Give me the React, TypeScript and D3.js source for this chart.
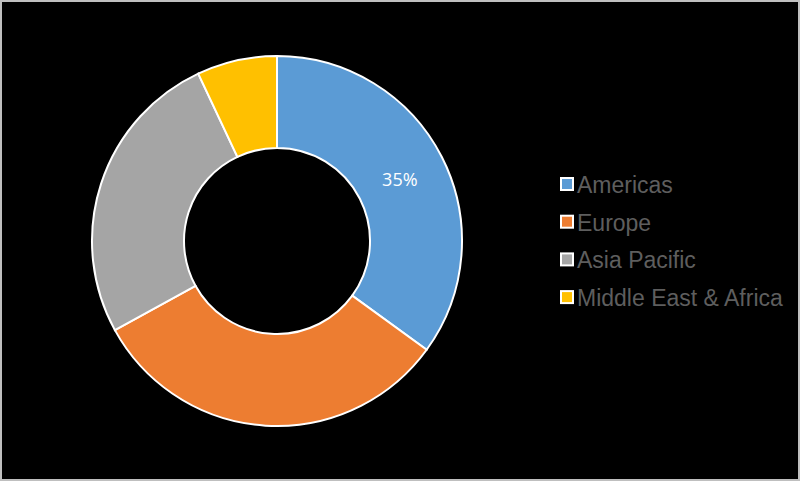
import React from "react";
import * as d3 from "d3";

const categories = ["Americas", "Europe", "Asia Pacific", "Middle East & Africa"];
const values = [35, 32, 26, 7];
const colors = ["#5B9BD5", "#ED7D31", "#A5A5A5", "#FFC000"];
const shownLabels = ["35%", "", "", ""];

export default function App() {
  const W = 800, H = 481;
  const cx = 277, cy = 241, outerR = 185, innerR = 93;
  const pie = d3.pie<number>().sort(null).value((d) => d);
  const arcs = pie(values);
  const arc = d3.arc<d3.PieArcDatum<number>>().innerRadius(innerR).outerRadius(outerR);
  const legendX = 560, legendY0 = 184, legendStep = 37.7;
  return (
    <svg width={W} height={H} style={{ position: "absolute", left: 0, top: 0, display: "block" }}>
      <rect x={0} y={0} width={W} height={H} fill="#000" />
      <rect x={1} y={1} width={W - 2} height={H - 2} fill="none" stroke="#bfbfbf" strokeWidth={2} />
      <g transform={`translate(${cx},${cy})`}>
        {arcs.map((a, i) => (
          <path key={i} d={arc(a) || ""} fill={colors[i]} stroke="#fff" strokeWidth={2} />
        ))}
        {arcs.map((a, i) => {
          if (!shownLabels[i]) return null;
          const [x, y] = arc.centroid(a);
          return (
            <text key={"l" + i} x={x - 1} y={y + 1} textAnchor="middle" dominantBaseline="central"
              fill="#fff" fontSize={18} fontFamily="'Open Sans', 'Liberation Sans', sans-serif">
              {shownLabels[i]}
            </text>
          );
        })}
      </g>
      <g>
        {categories.map((c, i) => {
          const y = legendY0 + i * legendStep;
          return (
            <g key={c}>
              <rect x={legendX + 1} y={y - 6} width={12} height={12} fill={colors[i]} stroke="#fff" strokeWidth={2} />
              <text x={legendX + 17} y={y + 1} dominantBaseline="central" fill="#5e5e5e" fontSize={23}
                fontFamily="'Liberation Sans', Arial, sans-serif">
                {c}
              </text>
            </g>
          );
        })}
      </g>
    </svg>
  );
}
